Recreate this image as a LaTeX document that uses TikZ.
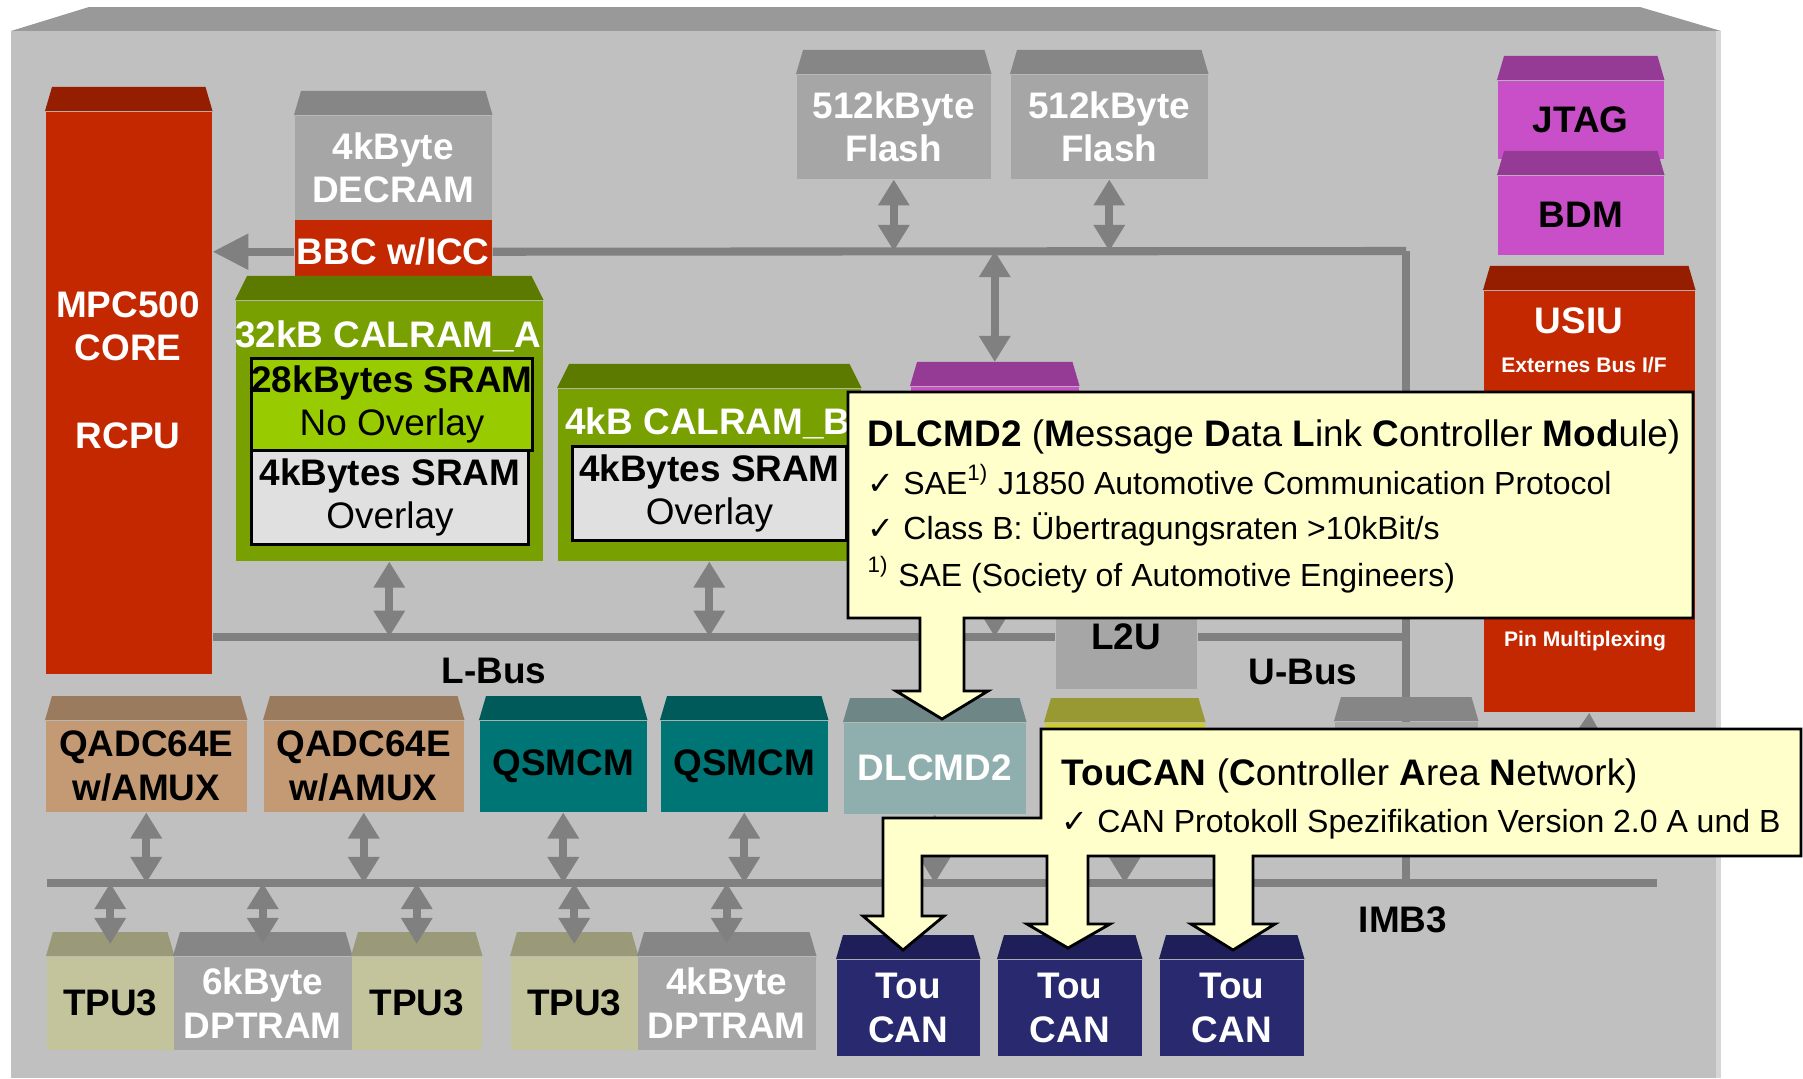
\documentclass[tikz,border=0pt]{standalone}
\usepackage{fontspec}
\setmainfont{Liberation Sans}
\newfontfamily\symfont{DejaVu Sans}
\usetikzlibrary{arrows.meta}

\definecolor{bgfront}{HTML}{C0C0C0}
\definecolor{bgedge}{HTML}{D6D6D6}
\definecolor{bgtop}{HTML}{999999}
\definecolor{busgray}{HTML}{808080}
\definecolor{modred}{HTML}{C42800}
\definecolor{modredcap}{HTML}{951E00}
\definecolor{modgray}{HTML}{A6A6A6}
\definecolor{modgraycap}{HTML}{868686}
\definecolor{calgreen}{HTML}{77A000}
\definecolor{calgreencap}{HTML}{5C7A00}
\definecolor{sramgreen}{HTML}{99CC00}
\definecolor{sramgray}{HTML}{E0E0E0}
\definecolor{qadctan}{HTML}{C49A74}
\definecolor{qadctancap}{HTML}{9A7B5E}
\definecolor{qsmteal}{HTML}{007575}
\definecolor{qsmtealcap}{HTML}{005A5A}
\definecolor{dlcgray}{HTML}{8FAEAE}
\definecolor{dlcgraycap}{HTML}{6E8686}
\definecolor{olivemod}{HTML}{CCCC33}
\definecolor{olivemodcap}{HTML}{999933}
\definecolor{tcnavy}{HTML}{29296F}
\definecolor{tcnavycap}{HTML}{1E1E58}
\definecolor{tpukhaki}{HTML}{C4C49C}
\definecolor{tpukhakicap}{HTML}{9A9A78}
\definecolor{jtagpink}{HTML}{C84FC8}
\definecolor{jtagpinkcap}{HTML}{953A95}
\definecolor{noteyellow}{HTML}{FFFFCC}

\newcommand{\topcap}[3][0.07]{%
  \fill[#3] (#2.north west) -- ([xshift=#1cm,yshift=0.24cm]#2.north west)
    -- ([xshift=-#1cm,yshift=0.24cm]#2.north east) -- (#2.north east) -- cycle;}

\begin{document}
\begin{tikzpicture}[x=0.01cm,y=-0.01cm,
  mod/.style={anchor=north west,inner sep=0pt,align=center,text=white,
    font=\fontsize{10.5}{12.4}\selectfont\bfseries},
  sram/.style={mod,draw=black,line width=0.8pt,text=black},
  lbl/.style={inner sep=0pt,align=center,font=\fontsize{10.5}{12.4}\selectfont\bfseries},
  tinylbl/.style={inner sep=0pt,text=white,font=\fontsize{6}{7}\selectfont\bfseries},
  bus/.style={draw=busgray,line width=2.3pt},
  dbl/.style={bus,{Triangle[width=8.5pt,length=7.4pt]}-{Triangle[width=8.5pt,length=7.4pt]}},
  notebox/.style={fill=noteyellow,draw=black,line width=0.8pt},
  notetxt/.style={anchor=base west,inner sep=0pt,font=\fontsize{9.1}{11}\selectfont},
  notehead/.style={notetxt,font=\fontsize{10.5}{12}\selectfont}]

\useasboundingbox (0,0) rectangle (1803,1078);
\fill[white] (0,0) rectangle (1803,1078);
\fill[bgtop] (11,31) -- (89,7) -- (1640,7) -- (1721,31) -- cycle;
\fill[bgfront] (11,31) rectangle (1721,1078);
\fill[bgedge] (1716,31) rectangle (1721,1078);

\coordinate (ucorner) at (1406,251);
\coordinate (ujoin) at (1406,883);
\coordinate (imbl) at (47,883);
\coordinate (imbr) at (1657,883);
\coordinate (usiuend) at (1584,830);
\draw[bus] (ucorner) -- (ujoin);
\draw[bus] (imbl) -- (imbr);

% upper half
\node[mod,fill=modred,minimum width=1.66cm,minimum height=5.62cm] (mpc) at (45,111) {};
\topcap{mpc}{modredcap}
\node[lbl,text=white] (mpclbl) at (128,370) {MPC500\\CORE\\[12.4pt]RCPU};
\node[mod,fill=modgray,minimum width=1.97cm,minimum height=1.04cm] (decram) at (294,115) {4kByte\\DECRAM};
\topcap{decram}{modgraycap}
\node[mod,fill=modred,minimum width=1.97cm,minimum height=0.64cm] (bbc) at (294,219) {BBC w/ICC};
\node[mod,fill=calgreen,minimum width=3.07cm,minimum height=2.60cm] (cala) at (235,300) {};
\topcap[0.12]{cala}{calgreencap}
\node[lbl,text=white] (calatitle) at (388,336) {32kB CALRAM\_A};
\node[sram,fill=sramgreen,minimum width=2.77cm,minimum height=0.92cm] (srama) at (250,357) {28kBytes SRAM\\{\mdseries No Overlay}};
\node[sram,fill=sramgray,minimum width=2.77cm,minimum height=0.94cm] (sramb) at (250,449) {4kBytes SRAM\\{\mdseries Overlay}};
\node[mod,fill=calgreen,minimum width=3.03cm,minimum height=1.72cm] (calb) at (557,388) {};
\topcap[0.12]{calb}{calgreencap}
\node[lbl,text=white] (calbtitle) at (708,423) {4kB CALRAM\_B};
\node[sram,fill=sramgray,minimum width=2.74cm,minimum height=0.94cm] (sramc) at (571,445) {4kBytes SRAM\\{\mdseries Overlay}};
\node[mod,fill=modgray,minimum width=1.94cm,minimum height=1.04cm] (flasha) at (796,74) {512kByte\\Flash};
\topcap{flasha}{modgraycap}
\node[mod,fill=modgray,minimum width=1.97cm,minimum height=1.04cm] (flashb) at (1010,74) {512kByte\\Flash};
\topcap{flashb}{modgraycap}
\node[mod,fill=jtagpink,minimum width=1.68cm,minimum height=1.74cm] (pmod) at (910,386) {};
\topcap{pmod}{jtagpinkcap}
\node[mod,fill=modgray,text=black,minimum width=1.41cm,minimum height=1.04cm] (l2u) at (1055,584) {L2U};
\topcap{l2u}{modgraycap}
\node[mod,fill=jtagpink,text=black,minimum width=1.66cm,minimum height=0.78cm] (jtag) at (1497,80) {JTAG};
\topcap{jtag}{jtagpinkcap}
\node[mod,fill=jtagpink,text=black,minimum width=1.66cm,minimum height=0.79cm] (bdm) at (1497,175) {BDM};
\topcap{bdm}{jtagpinkcap}
\node[mod,fill=modred,minimum width=2.11cm,minimum height=4.21cm] (usiu) at (1483,290) {};
\topcap{usiu}{modredcap}
\node[lbl,text=white] (usiulbl) at (1579,321) {USIU};
\node[tinylbl] (usiubus) at (1584,365) {Externes Bus I/F};
\node[tinylbl] (usiupin) at (1585,641) {Pin Multiplexing};

% IMB3 modules
\node[mod,fill=qadctan,text=black,minimum width=2.01cm,minimum height=0.91cm] (qadca) at (45,720) {QADC64E\\w/AMUX};
\topcap{qadca}{qadctancap}
\node[mod,fill=qadctan,text=black,minimum width=2.00cm,minimum height=0.91cm] (qadcb) at (263,720) {QADC64E\\w/AMUX};
\topcap{qadcb}{qadctancap}
\node[mod,fill=qsmteal,text=black,minimum width=1.67cm,minimum height=0.91cm] (qsmcma) at (479,720) {QSMCM};
\topcap{qsmcma}{qsmtealcap}
\node[mod,fill=qsmteal,text=black,minimum width=1.67cm,minimum height=0.91cm] (qsmcmb) at (660,720) {QSMCM};
\topcap{qsmcmb}{qsmtealcap}
\node[mod,fill=dlcgray,minimum width=1.82cm,minimum height=0.91cm] (dlcmd) at (843,722) {DLCMD2};
\topcap{dlcmd}{dlcgraycap}
\node[mod,fill=olivemod,minimum width=1.60cm,minimum height=0.91cm] (omod) at (1044,722) {};
\topcap{omod}{olivemodcap}
\node[mod,fill=modgray,minimum width=1.43cm,minimum height=0.91cm] (gmod) at (1334,721) {};
\topcap{gmod}{modgraycap}

\node[mod,fill=tpukhaki,text=black,minimum width=1.27cm,minimum height=0.93cm] (tpua) at (46,956) {TPU3};
\topcap{tpua}{tpukhakicap}
\node[mod,fill=modgray,minimum width=1.78cm,minimum height=0.93cm] (dptra) at (173,956) {6kByte\\DPTRAM};
\topcap{dptra}{modgraycap}
\node[mod,fill=tpukhaki,text=black,minimum width=1.30cm,minimum height=0.93cm] (tpub) at (351,956) {TPU3};
\topcap{tpub}{tpukhakicap}
\node[mod,fill=tpukhaki,text=black,minimum width=1.27cm,minimum height=0.93cm] (tpuc) at (510,956) {TPU3};
\topcap{tpuc}{tpukhakicap}
\node[mod,fill=modgray,minimum width=1.78cm,minimum height=0.93cm] (dptrb) at (637,956) {4kByte\\DPTRAM};
\topcap{dptrb}{modgraycap}
\node[mod,fill=tcnavy,minimum width=1.43cm,minimum height=0.96cm] (toucana) at (836,959) {Tou\\CAN};
\topcap{toucana}{tcnavycap}
\node[mod,fill=tcnavy,minimum width=1.44cm,minimum height=0.96cm] (toucanb) at (997,959) {Tou\\CAN};
\topcap{toucanb}{tcnavycap}
\node[mod,fill=tcnavy,minimum width=1.44cm,minimum height=0.96cm] (toucanc) at (1159,959) {Tou\\CAN};
\topcap{toucanc}{tcnavycap}

% buses and arrows
\draw[bus] (bbc.east) -- (ucorner);
\draw[bus] (mpc.east |- l2u.west) -- (l2u.west);
\draw[bus] (l2u.east) -- (l2u.east -| ucorner);
\draw[bus,-{Triangle[width=9.7pt,length=10.2pt]}] (bbc.west) -- (bbc.west -| mpc.east);
\draw[dbl] (flasha.south) -- (flasha.south |- ucorner);
\draw[dbl] (flashb.south) -- (flashb.south |- ucorner);
\draw[dbl] (pmod.north |- ucorner) -- ([yshift=0.24cm]pmod.north);
\draw[dbl] (pmod.south) -- (pmod.south |- l2u.west);
\draw[dbl] (cala.south) -- (cala.south |- l2u.west);
\draw[dbl] (calb.south) -- (calb.south |- l2u.west);
\draw[dbl] (usiu.south) -- (usiuend);
\foreach \m in {qadca,qadcb,qsmcma,qsmcmb,dlcmd,omod}
  \draw[dbl] (\m.south) -- (\m.south |- imbl);
\foreach \m in {tpua,dptra,tpub,tpuc,dptrb}
  \draw[dbl] (\m.north |- imbl) -- ([yshift=0.12cm]\m.north);

\node[lbl] (lbus) at (494,671) {L-Bus};
\node[lbl] (ubus) at (1303,672) {U-Bus};
\node[lbl] (imb) at (1403,920) {IMB3};

% callouts
\filldraw[notebox] (848,392) -- (1693,392) -- (1693,618) -- (964,618) -- (964,691)
  -- (988,691) -- (942,719) -- (896,691) -- (920,691) -- (920,618) -- (848,618) -- cycle;
\node[notehead] (dltitle) at (867,446) {\textbf{DLCMD2} (\textbf{M}essage \textbf{D}ata \textbf{L}ink \textbf{C}ontroller \textbf{Mod}ule)};
\node[notetxt] (dlsae) at (867,494) {{\symfont ✓} SAE\textsuperscript{1)} J1850 Automotive Communication Protocol};
\node[notetxt] (dlclass) at (867,539) {{\symfont ✓} Class B: Übertragungsraten >10kBit/s};
\node[notetxt] (dlfoot) at (867,586) {\textsuperscript{1)} SAE (Society of Automotive Engineers)};

\filldraw[notebox] (1041,729) -- (1801,729) -- (1801,856) -- (1253,856) -- (1253,924)
  -- (1275,924) -- (1233,950) -- (1191,924) -- (1214,924) -- (1214,856)
  -- (1088,856) -- (1088,924) -- (1110,924) -- (1068,948) -- (1027,924) -- (1047,924)
  -- (1047,856) -- (922,856) -- (922,916) -- (944,916) -- (903,950) -- (863,916)
  -- (883,916) -- (883,818) -- (1041,818) -- cycle;
\node[notehead] (tctitle) at (1061,785) {\textbf{TouCAN} (\textbf{C}ontroller \textbf{A}rea \textbf{N}etwork)};
\node[notetxt] (tcspec) at (1061,832) {{\symfont ✓} CAN Protokoll Spezifikation Version 2.0 A und B};
\end{tikzpicture}
\end{document}
